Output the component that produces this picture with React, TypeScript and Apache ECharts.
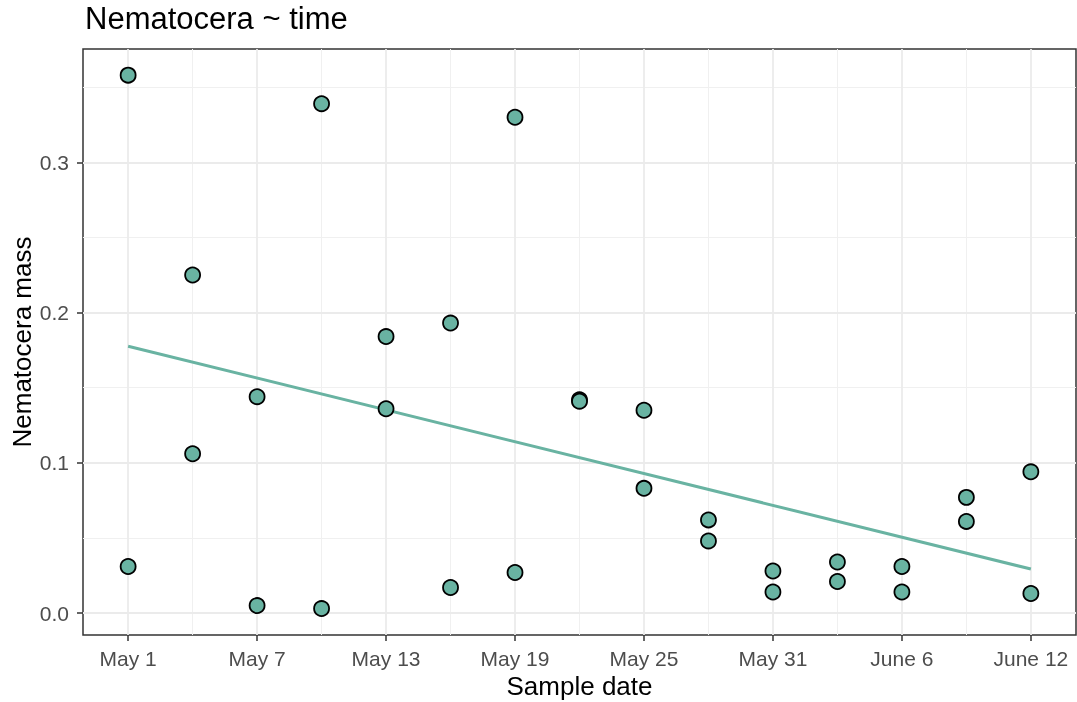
import React, { useEffect, useRef } from "react";
import * as echarts from "echarts";

// Days since May 1 for each sample
const sampleDay = [0, 0, 3, 3, 6, 6, 9, 9, 12, 12, 15, 15, 18, 18, 21, 21, 24, 24, 27, 27, 30, 30, 33, 33, 36, 36, 39, 39, 42, 42];
const nematoceraMass = [
  0.358, 0.031, 0.225, 0.106, 0.144, 0.005, 0.339, 0.003, 0.184, 0.136,
  0.193, 0.017, 0.330, 0.027, 0.142, 0.141, 0.135, 0.083, 0.062, 0.048,
  0.028, 0.014, 0.034, 0.021, 0.031, 0.014, 0.077, 0.061, 0.094, 0.013,
];
const trendDay = [0, 42];
const trendMass = [0.1776, 0.0293];

const xTickDays = [0, 6, 12, 18, 24, 30, 36, 42];
const xTickLabels = ["May 1", "May 7", "May 13", "May 19", "May 25", "May 31", "June 6", "June 12"];
const xMinorDays = [3, 9, 15, 21, 27, 33, 39];
const yTicks = [0, 0.1, 0.2, 0.3];
const yTickLabels = ["0.0", "0.1", "0.2", "0.3"];
const yMinor = [0.05, 0.15, 0.25, 0.35];

const FONT = "Liberation Sans, Arial, sans-serif";
const POINT = "#69b3a2";

export default function App() {
  const ref = useRef<HTMLDivElement>(null);
  useEffect(() => {
    if (!ref.current) return;
    const chart = echarts.init(ref.current, undefined, { renderer: "svg" });
    const gridLine = (vals: number[], axis: "xAxis" | "yAxis", width: number, color: string) => ({
      type: "scatter",
      data: [],
      z: 0,
      silent: true,
      markLine: {
        silent: true,
        z: 0,
        symbol: "none",
        animation: false,
        label: { show: false },
        lineStyle: { color, width, type: "solid" },
        emphasis: { disabled: true },
        data: vals.map((v) => ({ [axis]: v })),
      },
    });
    chart.setOption({
      animation: false,
      title: {
        text: "Nematocera ~ time",
        left: 80,
        top: -2,
        textStyle: { fontFamily: FONT, fontSize: 31, fontWeight: "normal", color: "#000" },
      },
      grid: {
        left: 83,
        right: 1,
        top: 49,
        bottom: 67,
        outerBoundsMode: "none",
        containLabel: false,
        show: true,
        borderColor: "#333333",
        borderWidth: 1.5,
        backgroundColor: "transparent",
      },
      xAxis: {
        type: "value",
        min: -2.1,
        max: 44.1,
        name: "Sample date",
        nameLocation: "middle",
        nameGap: 38,
        nameMoveOverlap: false,
        nameTextStyle: { fontFamily: FONT, fontSize: 26, color: "#000" },
        axisLine: { show: false, onZero: false },
        splitLine: { show: false },
        axisTick: { show: true, length: 6, customValues: xTickDays, lineStyle: { color: "#333333", width: 1.5 } },
        axisLabel: {
          customValues: xTickDays,
          margin: 13,
          fontFamily: FONT,
          fontSize: 21,
          color: "#4d4d4d",
          formatter: (v: number) => {
            const i = xTickDays.indexOf(Math.round(v));
            return i >= 0 ? xTickLabels[i] : "";
          },
        },
      },
      yAxis: {
        type: "value",
        min: -0.0146,
        max: 0.3754,
        name: "Nematocera mass",
        nameLocation: "middle",
        nameGap: 48,
        nameMoveOverlap: false,
        nameTextStyle: { fontFamily: FONT, fontSize: 26, color: "#000" },
        axisLine: { show: false, onZero: false },
        splitLine: { show: false },
        axisTick: { show: true, length: 6, customValues: yTicks, lineStyle: { color: "#333333", width: 1.5 } },
        axisLabel: {
          customValues: yTicks,
          margin: 14,
          fontFamily: FONT,
          fontSize: 21,
          color: "#4d4d4d",
          formatter: (v: number) => {
            const i = yTicks.findIndex((t) => Math.abs(t - v) < 1e-6);
            return i >= 0 ? yTickLabels[i] : "";
          },
        },
      },
      series: [
        gridLine(xMinorDays, "xAxis", 1, "#f0f0f0"),
        gridLine(yMinor, "yAxis", 1, "#f0f0f0"),
        gridLine(xTickDays, "xAxis", 1.8, "#ebebeb"),
        gridLine(yTicks, "yAxis", 1.8, "#ebebeb"),
        {
          type: "line",
          data: trendDay.map((d, i) => [d, trendMass[i]]),
          showSymbol: false,
          symbol: "none",
          z: 3,
          lineStyle: { color: POINT, width: 3 },
          silent: true,
        },
        {
          type: "scatter",
          data: sampleDay.map((d, i) => [d, nematoceraMass[i]]),
          symbol: "circle",
          symbolSize: 15,
          z: 4,
          itemStyle: { color: POINT, borderColor: "#000", borderWidth: 1.8, opacity: 1 },
        },
      ],
    });
    return () => chart.dispose();
  }, []);
  return <div ref={ref} style={{ position: "fixed", left: 0, top: 0, width: 1077, height: 702 }} />;
}
